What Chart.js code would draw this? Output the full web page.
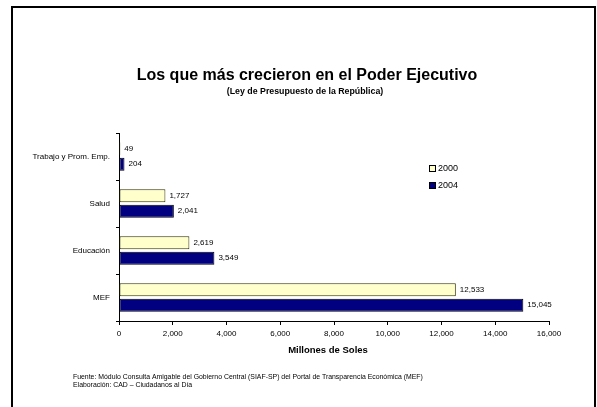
<!DOCTYPE html>
<html>
<head>
<meta charset="utf-8">
<script src="https://cdn.jsdelivr.net/npm/chart.js@4/dist/chart.umd.min.js"></script>
<style>
  html, body { margin: 0; padding: 0; background: #fff; }
  #wrap { position: relative; width: 597px; height: 407px; }
</style>
</head>
<body>
<div id="wrap"><canvas id="grafico" width="597" height="407"></canvas></div>
<script>
// datos del grafico
var categorias = ['Trabajo y Prom. Emp.', 'Salud', 'Educación', 'MEF'];
var anios = ['2000', '2004'];
var valores2000 = [49, 1727, 2619, 12533];
var valores2004 = [204, 2041, 3549, 15045];
var ticksX = [0, 2000, 4000, 6000, 8000, 10000, 12000, 14000, 16000];

var titulo = 'Los que más crecieron en el Poder Ejecutivo';
var subtitulo = '(Ley de Presupuesto de la República)';
var tituloEje = 'Millones de Soles';
var fuente = 'Fuente: Módulo Consulta Amigable del Gobierno Central (SIAF-SP) del Portal de Transparencia Económica (MEF)';
var elaboracion = 'Elaboración: CAD – Ciudadanos al Día';

var fuenteTxt = '"Liberation Sans", Arial, sans-serif';

function formato(n) {
    return n.toLocaleString('en-US');
}

// textos, marco, etiquetas y leyenda
var extras = {
    id: 'extras',
    beforeDraw: function (chart) {
        var ctx = chart.ctx;
        ctx.save();
        ctx.fillStyle = '#fff';
        ctx.fillRect(0, 0, chart.width, chart.height);
        // marco
        ctx.strokeStyle = '#000';
        ctx.lineWidth = 2;
        ctx.beginPath();
        ctx.moveTo(12, 410);
        ctx.lineTo(12, 7);
        ctx.lineTo(595, 7);
        ctx.lineTo(595, 410);
        ctx.stroke();
        ctx.restore();
    },
    afterDraw: function (chart) {
        var ctx = chart.ctx;
        var area = chart.chartArea;
        ctx.save();
        ctx.fillStyle = '#000';
        ctx.textAlign = 'center';
        ctx.textBaseline = 'middle';
        ctx.font = 'bold 16px ' + fuenteTxt;
        ctx.fillText(titulo, 307, 76);
        ctx.font = 'bold 8.8px ' + fuenteTxt;
        ctx.fillText(subtitulo, 305, 92);
        ctx.font = 'bold 9.5px ' + fuenteTxt;
        ctx.fillText(tituloEje, 328, 350);

        ctx.textAlign = 'left';
        ctx.font = '6.9px ' + fuenteTxt;
        ctx.fillText(fuente, 73, 377);
        ctx.fillText(elaboracion, 73, 385);

        // etiquetas de valores
        ctx.font = '8px ' + fuenteTxt;
        chart.data.datasets.forEach(function (ds, i) {
            var meta = chart.getDatasetMeta(i);
            meta.data.forEach(function (bar, j) {
                ctx.fillText(formato(ds.data[j]), bar.x + 4, bar.y);
            });
        });

        // leyenda
        var lx = area.left + 310;
        var ly = area.top + 36;
        chart.data.datasets.forEach(function (ds, i) {
            var y = ly + i * 17;
            ctx.fillStyle = ds.backgroundColor;
            ctx.fillRect(lx, y - 3, 6, 6);
            ctx.strokeStyle = '#000';
            ctx.lineWidth = 1;
            ctx.strokeRect(lx + 0.5, y - 3.5, 6, 6);
            ctx.fillStyle = '#000';
            ctx.font = '9px ' + fuenteTxt;
            ctx.fillText(ds.label, lx + 9, y);
        });
        ctx.restore();
    }
};

var ctx = document.getElementById('grafico');
var grafico = new Chart(ctx, {
    type: 'bar',
    data: {
        labels: categorias,
        datasets: [
            {
                label: anios[0],
                data: valores2000,
                backgroundColor: '#FFFFCC',
                borderColor: '#333300',
                borderWidth: 1,
                borderSkipped: false,
                barPercentage: 0.85,
                categoryPercentage: 0.65
            },
            {
                label: anios[1],
                data: valores2004,
                backgroundColor: '#000080',
                borderColor: '#000000',
                borderWidth: 1,
                borderSkipped: false,
                barPercentage: 0.85,
                categoryPercentage: 0.65
            }
        ]
    },
    options: {
        indexAxis: 'y',
        responsive: false,
        animation: false,
        layout: {
            padding: { left: 0, right: 48, top: 133, bottom: 0 }
        },
        plugins: {
            legend: { display: false },
            tooltip: { enabled: false }
        },
        scales: {
            x: {
                min: 0,
                max: 16000,
                afterBuildTicks: function (scale) {
                    scale.ticks = ticksX.map(function (v) { return { value: v }; });
                },
                afterFit: function (scale) { scale.height = 86; },
                ticks: {
                    color: '#000',
                    font: { family: fuenteTxt, size: 8 },
                    padding: 4,
                    maxRotation: 0,
                    callback: function (v) { return formato(v); }
                },
                grid: {
                    drawOnChartArea: false,
                    drawTicks: true,
                    tickLength: 4,
                    color: '#000'
                },
                border: { color: '#000', width: 1 }
            },
            y: {
                afterFit: function (scale) { scale.width = 119; },
                ticks: {
                    color: '#000',
                    font: { family: fuenteTxt, size: 8 },
                    padding: 6
                },
                grid: {
                    offset: true,
                    drawOnChartArea: false,
                    drawTicks: true,
                    tickLength: 3,
                    color: '#000'
                },
                border: { color: '#000', width: 1 }
            }
        }
    },
    plugins: [extras]
});
</script>
</body>
</html>
